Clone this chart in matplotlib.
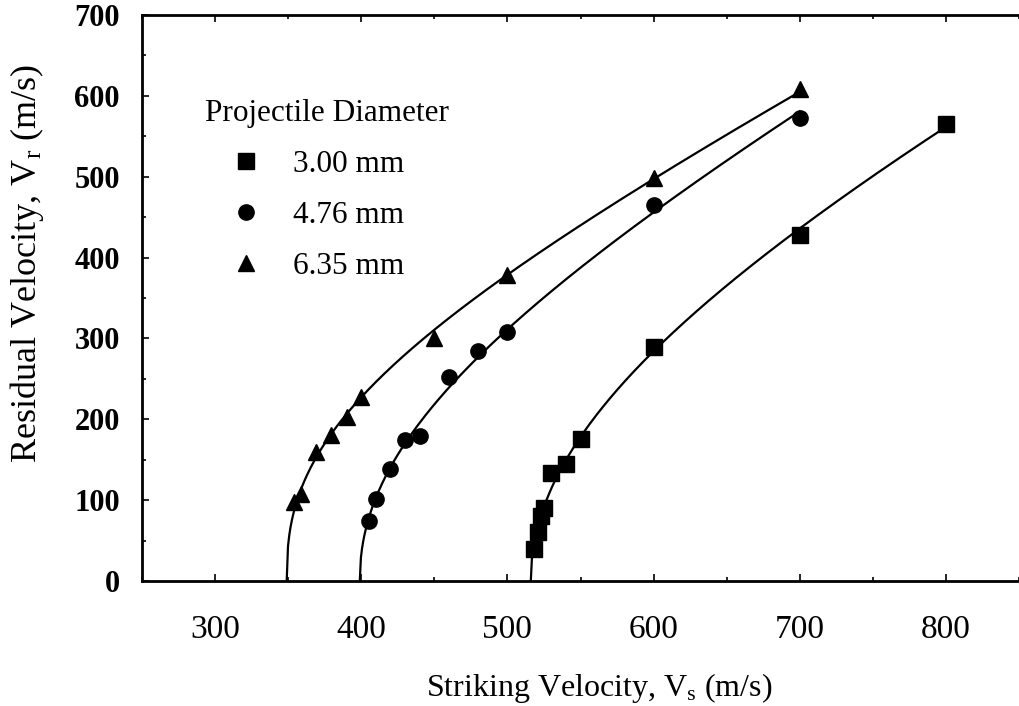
import numpy as np
import matplotlib.pyplot as plt
from matplotlib.ticker import MultipleLocator

plt.rcParams["font.family"] = ["Liberation Serif", "DejaVu Serif"]
plt.rcParams["mathtext.fontset"] = "custom"
plt.rcParams["mathtext.rm"] = "Liberation Serif"
plt.rcParams["mathtext.it"] = "Liberation Serif"

labels = ["3.00 mm", "4.76 mm", "6.35 mm"]
markers = ["s", "o", "^"]

vs_300 = [518, 521, 523, 525, 530, 540, 550, 600, 700, 800]
vr_300 = [40, 60, 80, 90, 134, 145, 176, 289, 428, 565]

vs_476 = [405, 410, 420, 430, 440, 460, 480, 500, 600, 700]
vr_476 = [74, 101, 138, 175, 179, 252, 285, 308, 465, 572]

vs_635 = [354, 359, 369, 379, 390, 400, 450, 500, 600, 700]
vr_635 = [98, 108, 160, 180, 203, 227, 301, 378, 498, 609]

# ballistic limits where the fitted curves meet Vr = 0
v_bl = [516, 399, 349]


def lambert_fit(vs, vr, vbl):
    # Lambert-Jones form Vr = a (Vs^p - Vbl^p)^(1/p), fitted to the points
    vs = np.asarray(vs, float)
    vr = np.asarray(vr, float)
    best = None
    for p in np.linspace(1.2, 4.0, 281):
        g = np.clip(vs**p - vbl**p, 0, None) ** (1 / p)
        a = (g @ vr) / (g @ g)
        err = np.sum((a * g - vr) ** 2)
        if best is None or err < best[0]:
            best = (err, a, p)
    return best[1], best[2]


fig = plt.figure(figsize=(10.19, 7.06), dpi=100)
ax = fig.add_axes([142 / 1019, 1 - 581 / 706, 1 - 142 / 1019, (581 - 15) / 706])

series = [(vs_300, vr_300), (vs_476, vr_476), (vs_635, vr_635)]
for (vs, vr), vbl, m, lab in zip(series, v_bl, markers, labels):
    a, p = lambert_fit(vs, vr, vbl)
    xs = np.linspace(vbl, max(vs), 400)
    ys = a * np.clip(xs**p - vbl**p, 0, None) ** (1 / p)
    ax.plot(xs, ys, color="black", lw=1.6, zorder=2)
    ax.plot(vs, vr, linestyle="none", marker=m, ms=11, color="black",
            label=lab, zorder=3)

ax.set_xlim(250, 850)
ax.set_ylim(0, 700)
ax.xaxis.set_major_locator(MultipleLocator(100))
ax.xaxis.set_minor_locator(MultipleLocator(50))
ax.yaxis.set_major_locator(MultipleLocator(100))
ax.yaxis.set_minor_locator(MultipleLocator(50))
ax.set_xticks([300, 400, 500, 600, 700, 800])
ax.tick_params(which="both", direction="in", top=True, right=False, width=1.2)
ax.tick_params(which="major", length=5)
ax.tick_params(which="minor", length=3)
ax.tick_params(axis="x", which="major", pad=24, labelsize=24)
ax.tick_params(axis="y", which="major", pad=16, labelsize=22)
for t in ax.get_yticklabels():
    t.set_fontweight("bold")
ax.spines["right"].set_visible(False)
for s in ["left", "bottom", "top"]:
    ax.spines[s].set_linewidth(2)

ax.set_xlabel("Striking Velocity, V$_\\mathregular{s}$ (m/s)", fontsize=23,
              family="Liberation Serif")
ax.xaxis.set_label_coords(0.521, -0.159)
ax.set_ylabel("Residual Velocity, V$_\\mathregular{r}$ (m/s)", fontsize=26,
              family="Liberation Serif")
ax.yaxis.set_label_coords(-0.11, 0.562)

leg = ax.legend(title="Projectile Diameter", loc="upper left",
                bbox_to_anchor=(0.0718, 0.851), frameon=False, fontsize=22.5,
                title_fontsize=22.5, handlelength=2.6, handletextpad=0.22,
                labelspacing=0.7, borderaxespad=0, borderpad=0)
leg._legend_box.align = "left"

plt.savefig("out.png", dpi=100)
